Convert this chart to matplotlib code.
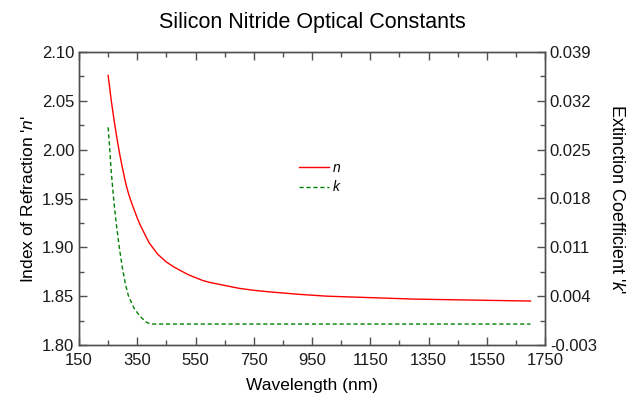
import matplotlib
matplotlib.use("Agg")
import matplotlib.pyplot as plt
from matplotlib.ticker import AutoMinorLocator, FixedLocator, FormatStrFormatter

plt.rcParams["font.family"] = ["Liberation Sans", "DejaVu Sans"]
plt.rcParams["mathtext.fontset"] = "custom"
plt.rcParams["mathtext.it"] = "Liberation Sans:italic"
plt.rcParams["mathtext.rm"] = "Liberation Sans"

# refractive index n
wl_n = [250, 260, 270, 280, 290, 300, 310, 320, 330, 340, 350, 360, 370, 380,
        390, 400, 420, 450, 475, 500, 525, 550, 575, 600, 650, 700, 750, 800,
        900, 1000, 1100, 1200, 1300, 1400, 1500, 1600, 1700]
n_vals = [2.076, 2.052, 2.031, 2.012, 1.995, 1.980, 1.966, 1.955, 1.946, 1.938,
          1.930, 1.923, 1.917, 1.911, 1.905, 1.901, 1.893, 1.885, 1.880, 1.876,
          1.872, 1.869, 1.866, 1.864, 1.861, 1.858, 1.856, 1.8545, 1.852, 1.850,
          1.849, 1.848, 1.847, 1.8465, 1.846, 1.8455, 1.845]

# extinction coefficient k
wl_k = [250, 255, 260, 265, 270, 275, 280, 290, 300, 310, 320, 340, 360, 380,
        390, 400, 600, 800, 1000, 1200, 1400, 1700]
k_vals = [0.0282, 0.0255, 0.0222, 0.0198, 0.0175, 0.0155, 0.0137, 0.0105,
          0.0078, 0.0056, 0.0040, 0.0022, 0.0011, 0.0003, 0.0001, 0.0, 0.0,
          0.0, 0.0, 0.0, 0.0, 0.0]

x_ticks = [150, 350, 550, 750, 950, 1150, 1350, 1550, 1750]
n_ticks = [1.80, 1.85, 1.90, 1.95, 2.00, 2.05, 2.10]
k_ticks = [-0.003, 0.004, 0.011, 0.018, 0.025, 0.032, 0.039]

SPINE = "#505050"

fig = plt.figure(figsize=(6.28, 3.95), dpi=100)
ax = fig.add_axes([79 / 628, 1 - 345 / 395, 466 / 628, 293 / 395])
ax2 = ax.twinx()

ln_n, = ax.plot(wl_n, n_vals, color="#ff0000", linewidth=1.0)
ln_k, = ax2.plot(wl_k, k_vals, color="#008000", linewidth=1.0,
                 linestyle=(0, (3, 2)))

ax.set_xlim(150, 1750)
ax.set_ylim(1.80, 2.10)
ax2.set_ylim(-0.003, 0.039)

ax.xaxis.set_major_locator(FixedLocator(x_ticks))
ax.xaxis.set_minor_locator(AutoMinorLocator(2))
ax.yaxis.set_major_locator(FixedLocator(n_ticks))
ax.yaxis.set_minor_locator(AutoMinorLocator(2))
ax.yaxis.set_major_formatter(FormatStrFormatter("%.2f"))
ax2.yaxis.set_major_locator(FixedLocator(k_ticks))
ax2.yaxis.set_minor_locator(AutoMinorLocator(2))
ax2.yaxis.set_major_formatter(FormatStrFormatter("%.3f"))

for a in (ax, ax2):
    for s in a.spines.values():
        s.set_color(SPINE)
        s.set_linewidth(1.0)
    a.tick_params(which="both", direction="in", color=SPINE, labelsize=12,
                  labelcolor="#1a1a1a")
    a.tick_params(which="major", length=6, width=1.0)
    a.tick_params(which="minor", length=3.5, width=1.0)
ax.tick_params(which="both", top=True, right=False)
ax.tick_params(axis="x", pad=6)

ax.set_xlabel("Wavelength (nm)", fontsize=12.5, labelpad=7)
ax.set_ylabel("Index of Refraction '$n$'", fontsize=12.5, labelpad=4)
ax2.set_ylabel("Extinction Coefficient '$k$'", fontsize=13, rotation=270,
               labelpad=20)
ax.set_title("Silicon Nitride Optical Constants", fontsize=15.5, pad=17)

fig.legend([ln_n, ln_k], ["$n$", "$k$"], loc="upper left",
           bbox_to_anchor=(286 / 628, 1 - 148 / 395), frameon=False,
           fontsize=10, handlelength=2.2, handletextpad=0.2,
           labelspacing=0.35)

fig.savefig("out.png", dpi=100)
